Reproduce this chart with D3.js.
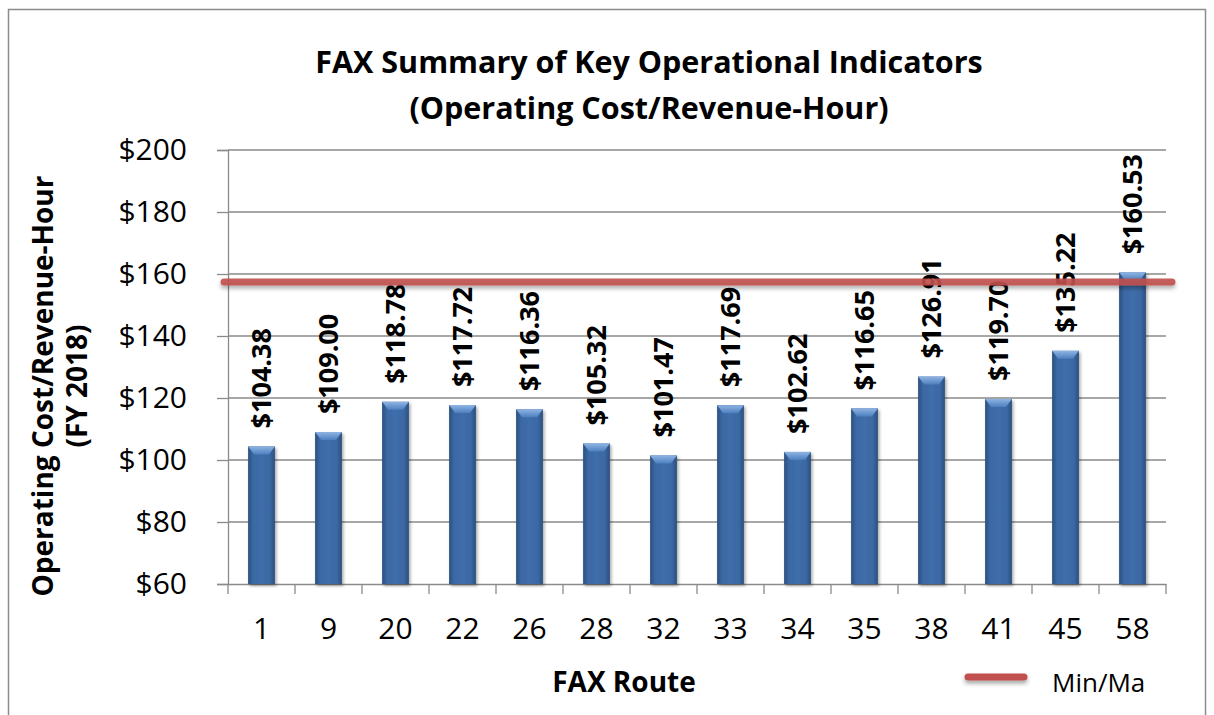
<!DOCTYPE html>
<html>
<head>
<meta charset="utf-8">
<script src="https://cdn.jsdelivr.net/npm/d3@7"></script>
<style>
  body { margin: 0; background: #fff; }
  svg { display: block; font-family: "Open Sans", sans-serif; }
</style>
</head>
<body>
<svg id="chart" width="1214" height="715"></svg>
<script>
const routes = ["1", "9", "20", "22", "26", "28", "32", "33", "34", "35", "38", "41", "45", "58"];
const costPerHour = [104.38, 109.00, 118.78, 117.72, 116.36, 105.32, 101.47, 117.69, 102.62, 116.65, 126.91, 119.70, 135.22, 160.53];
const yTicks = [60, 80, 100, 120, 140, 160, 180, 200];
const minMaxValue = 157.4;
const legendLabel = "Min/Ma";

const svg = d3.select("#chart");
const plot = {left: 228, right: 1166, top: 150, bottom: 584};

// outer frame
svg.append("rect")
  .attr("x", 8.5).attr("y", 9.5)
  .attr("width", 1197).attr("height", 720)
  .attr("fill", "none").attr("stroke", "#8c8c8c").attr("stroke-width", 1.5);

const defs = svg.append("defs");
const barGrad = defs.append("linearGradient").attr("id", "barGrad")
  .attr("x1", "0").attr("x2", "1").attr("y1", "0").attr("y2", "0");
barGrad.append("stop").attr("offset", "0").attr("stop-color", "#2b4f7e");
barGrad.append("stop").attr("offset", "0.18").attr("stop-color", "#3b68a2");
barGrad.append("stop").attr("offset", "0.5").attr("stop-color", "#3f6eab");
barGrad.append("stop").attr("offset", "0.82").attr("stop-color", "#3b68a2");
barGrad.append("stop").attr("offset", "1").attr("stop-color", "#2b4f7e");

const bevelGrad = defs.append("linearGradient").attr("id", "bevelGrad")
  .attr("x1", "0").attr("x2", "0").attr("y1", "0").attr("y2", "1");
bevelGrad.append("stop").attr("offset", "0").attr("stop-color", "#8fb4e3");
bevelGrad.append("stop").attr("offset", "1").attr("stop-color", "#4d7fbf");

const shadow = defs.append("filter").attr("id", "shadow")
  .attr("x", "-30%").attr("y", "-30%").attr("width", "160%").attr("height", "160%");
shadow.append("feDropShadow").attr("dx", 1.5).attr("dy", 2).attr("stdDeviation", 1.8)
  .attr("flood-color", "#000").attr("flood-opacity", 0.35);

// horizontal lines have an empty bounding box, so the region is given in user space
const lineShadow = defs.append("filter").attr("id", "lineShadow")
  .attr("filterUnits", "userSpaceOnUse")
  .attr("x", 0).attr("y", 0).attr("width", 1214).attr("height", 715);
lineShadow.append("feDropShadow").attr("dx", 0).attr("dy", 3).attr("stdDeviation", 2)
  .attr("flood-color", "#000").attr("flood-opacity", 0.35);

const x = d3.scaleBand().domain(routes).range([plot.left, plot.right]);
const y = d3.scaleLinear().domain([60, 200]).range([plot.bottom, plot.top]);

// gridlines
svg.append("g").selectAll("line").data(yTicks.slice(1)).join("line")
  .attr("x1", plot.left).attr("x2", plot.right)
  .attr("y1", d => y(d)).attr("y2", d => y(d))
  .attr("stroke", "#8a8a8a").attr("stroke-width", 1.3);

// y axis
const yAxis = svg.append("g")
  .attr("transform", `translate(${plot.left},0)`)
  .call(d3.axisLeft(y).tickValues(yTicks).tickSize(11).tickPadding(30).tickFormat(d => "$" + d));
yAxis.select(".domain").attr("stroke", "#8a8a8a").attr("stroke-width", 1.3);
yAxis.selectAll(".tick line").attr("stroke", "#8a8a8a").attr("stroke-width", 1.3);
yAxis.selectAll(".tick text").attr("font-size", 30).attr("font-family", "Open Sans").attr("fill", "#000");

// x axis
const xAxis = svg.append("g")
  .attr("transform", `translate(0,${plot.bottom})`)
  .call(d3.axisBottom(x).tickSize(0).tickPadding(34));
xAxis.select(".domain").attr("stroke", "#8a8a8a").attr("stroke-width", 1.3);
xAxis.selectAll(".tick text").attr("font-size", 30).attr("font-family", "Open Sans").attr("fill", "#000");
svg.append("g").selectAll("line").data(routes.concat([null])).join("line")
  .attr("x1", (d, i) => plot.left + i * x.step()).attr("x2", (d, i) => plot.left + i * x.step())
  .attr("y1", plot.bottom).attr("y2", plot.bottom + 10)
  .attr("stroke", "#8a8a8a").attr("stroke-width", 1.3);

// bars
const barW = x.step() * 0.4;
const bars = svg.append("g").selectAll("g").data(routes).join("g")
  .attr("filter", "url(#shadow)");
bars.append("rect")
  .attr("x", d => x(d) + (x.bandwidth() - barW) / 2)
  .attr("y", (d, i) => y(costPerHour[i]))
  .attr("width", barW)
  .attr("height", (d, i) => plot.bottom - y(costPerHour[i]))
  .attr("fill", "url(#barGrad)");
bars.append("polygon")
  .attr("points", (d, i) => {
    const x0 = x(d) + (x.bandwidth() - barW) / 2, x1 = x0 + barW, t = y(costPerHour[i]);
    return [[x0, t], [x1, t], [x1 - 6, t + 8], [x0 + 6, t + 8]].join(" ");
  })
  .attr("fill", "url(#bevelGrad)");

// value labels
svg.append("g").selectAll("text").data(routes).join("text")
  .attr("transform", (d, i) => `translate(${x(d) + x.bandwidth() / 2},${y(costPerHour[i]) - 18}) rotate(-90)`)
  .attr("dy", "0.36em")
  .attr("font-size", 27).attr("font-weight", "bold")
  .text((d, i) => "$" + costPerHour[i].toFixed(2));

// min/max line
svg.append("line")
  .attr("x1", plot.left - 4).attr("x2", plot.right + 6)
  .attr("y1", y(minMaxValue)).attr("y2", y(minMaxValue))
  .attr("stroke", "#c0504d").attr("stroke-width", 7).attr("stroke-linecap", "round")
  .attr("stroke-opacity", 0.9)
  .attr("filter", "url(#lineShadow)");

// titles
const title = svg.append("text").attr("text-anchor", "middle")
  .attr("font-size", 30.5).attr("font-weight", "bold");
title.append("tspan").attr("x", 649).attr("y", 73).text("FAX Summary of Key Operational Indicators");
title.append("tspan").attr("x", 649).attr("y", 119).text("(Operating Cost/Revenue-Hour)");

const yTitle = svg.append("text").attr("text-anchor", "middle")
  .attr("font-size", 28).attr("font-weight", "bold")
  .attr("transform", "translate(0,386) rotate(-90)");
yTitle.append("tspan").attr("x", 0).attr("y", 53).text("Operating Cost/Revenue-Hour");
yTitle.append("tspan").attr("x", 0).attr("y", 87).text("(FY 2018)");

svg.append("text").attr("x", 624).attr("y", 692).attr("text-anchor", "middle")
  .attr("font-size", 28).attr("font-weight", "bold").text("FAX Route");

// legend
svg.append("line")
  .attr("x1", 968).attr("x2", 1024).attr("y1", 677).attr("y2", 677)
  .attr("stroke", "#c0504d").attr("stroke-width", 7).attr("stroke-linecap", "round")
  .attr("filter", "url(#lineShadow)");
svg.append("text").attr("x", 1052).attr("y", 692)
  .attr("font-size", 26).text(legendLabel);
</script>
</body>
</html>
